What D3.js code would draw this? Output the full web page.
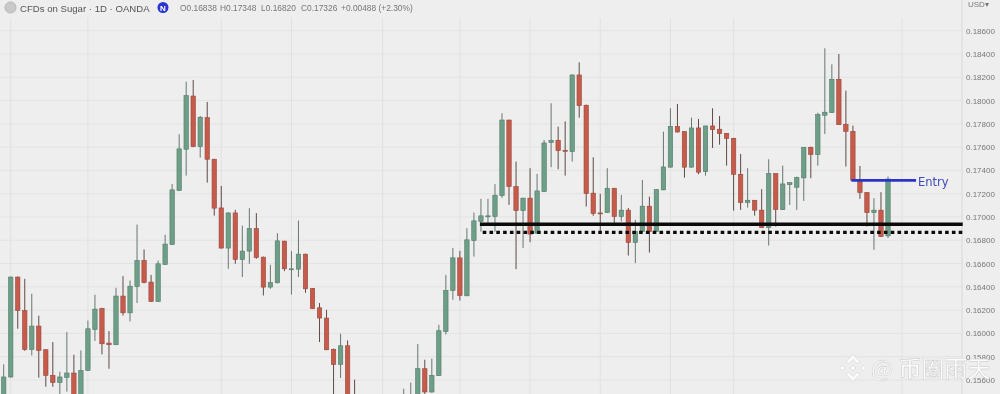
<!DOCTYPE html>
<html>
<head>
<meta charset="utf-8">
<script src="https://cdn.jsdelivr.net/npm/d3@7"></script>
<style>
  html, body { margin: 0; padding: 0; background: #ececec; overflow: hidden; }
  svg { display: block; filter: blur(0.45px); }
  text { font-family: "Liberation Sans", sans-serif; }
</style>
</head>
<body>
<div id="chart"></div>
<script>
/* globals d3 */
const title = 'CFDs on Sugar · 1D · OANDA';
const quote = ['O0.16838', 'H0.17348', 'L0.16820', 'C0.17326', '+0.00488 (+2.30%)'];
const quoteX = [180, 220, 261, 301, 341];
const priceTicks = [0.186, 0.184, 0.182, 0.18, 0.178, 0.176, 0.174, 0.172, 0.17, 0.168, 0.166, 0.164, 0.162, 0.16, 0.158, 0.156];
const timeGrid = [1, 12, 31, 41, 54, 65, 75, 85, 95, 104, 128];

// candles 51-56 sit below the visible area
const opens = [
  0.15431, 0.15626, 0.16484, 0.16197, 0.15863, 0.16063, 0.15860, 0.15640, 0.15579, 0.15622,
  0.15660, 0.15431, 0.15682, 0.16034, 0.16214, 0.15917, 0.15903, 0.16321, 0.16177, 0.16403,
  0.16626, 0.16441, 0.16274, 0.16592, 0.16763, 0.17227, 0.17582, 0.18039, 0.17604, 0.17853,
  0.17496, 0.17078, 0.16733, 0.17035, 0.16635, 0.16707, 0.16901, 0.16655, 0.16398, 0.16435,
  0.16793, 0.16555, 0.16552, 0.16681, 0.16386, 0.16220, 0.16132, 0.15864, 0.15734, 0.15894,
  0.15450, null, null, null, null, null, null, 0.15431, 0.15431, 0.15431,
  0.15697, 0.15497, 0.15637, 0.16017, 0.16369, 0.16649, 0.16323, 0.16798, 0.16961, 0.17010,
  0.17004, 0.17184, 0.17833, 0.17261, 0.17055, 0.17162, 0.16861, 0.17218, 0.17639, 0.17659,
  0.17573, 0.17561, 0.18220, 0.17960, 0.17205, 0.17035, 0.17038, 0.17247, 0.17004, 0.17059,
  0.16781, 0.16875, 0.17093, 0.16875, 0.17233, 0.17428, 0.17779, 0.17733, 0.17428, 0.17765,
  0.17390, 0.17782, 0.17754, 0.17719, 0.17676, 0.17367, 0.17124, 0.17144, 0.17059, 0.16909,
  0.17373, 0.17064, 0.17278, 0.17256, 0.17336, 0.17599, 0.17536, 0.17874, 0.17896, 0.18183,
  0.17796, 0.17736, 0.17319, 0.17210, 0.17038, 0.17059, 0.16838
];
const highs = [
  0.15734, 0.16490, 0.16490, 0.16469, 0.16340, 0.16152, 0.15865, 0.15926, 0.15671, 0.16012,
  0.15817, 0.15854, 0.16111, 0.16332, 0.16220, 0.16020, 0.16392, 0.16492, 0.16455, 0.16935,
  0.16721, 0.16503, 0.16626, 0.16847, 0.17284, 0.17711, 0.18162, 0.18177, 0.17868, 0.17988,
  0.17500, 0.17267, 0.17040, 0.17061, 0.16926, 0.17076, 0.17033, 0.16660, 0.16589, 0.16861,
  0.16795, 0.16707, 0.16969, 0.16685, 0.16390, 0.16261, 0.16203, 0.15870, 0.15997, 0.15940,
  0.15603, null, null, null, null, null, null, 0.15525, 0.15577, 0.15909,
  0.15774, 0.15783, 0.16074, 0.16503, 0.16733, 0.16709, 0.16904, 0.17038, 0.17156, 0.17156,
  0.17282, 0.17891, 0.17835, 0.17476, 0.17165, 0.17419, 0.17370, 0.17662, 0.17977, 0.17776,
  0.17822, 0.18225, 0.18329, 0.17965, 0.17513, 0.17199, 0.17419, 0.17250, 0.17190, 0.17078,
  0.16975, 0.17319, 0.17175, 0.17240, 0.17733, 0.17934, 0.17971, 0.17735, 0.17853, 0.17842,
  0.17785, 0.17934, 0.17868, 0.17720, 0.17680, 0.17542, 0.17419, 0.17145, 0.17239, 0.17496,
  0.17375, 0.17441, 0.17295, 0.17347, 0.17600, 0.17604, 0.17896, 0.18449, 0.18311, 0.18400,
  0.18085, 0.17785, 0.17439, 0.17215, 0.17162, 0.17213, 0.17348
];
const lows = [
  0.15431, 0.15620, 0.16040, 0.15851, 0.15811, 0.15620, 0.15542, 0.15542, 0.15465, 0.15500,
  0.15431, 0.15431, 0.15680, 0.15935, 0.15820, 0.15697, 0.15900, 0.16154, 0.16103, 0.16261,
  0.16430, 0.16270, 0.16270, 0.16590, 0.16760, 0.17225, 0.17355, 0.17600, 0.17510, 0.17295,
  0.17012, 0.16730, 0.16555, 0.16598, 0.16484, 0.16598, 0.16641, 0.16326, 0.16383, 0.16430,
  0.16535, 0.16334, 0.16484, 0.16349, 0.16210, 0.15926, 0.15855, 0.15431, 0.15617, 0.15431,
  0.15431, null, null, null, null, null, null, 0.15431, 0.15431, 0.15431,
  0.15431, 0.15490, 0.15635, 0.15991, 0.16289, 0.16283, 0.16320, 0.16660, 0.16875, 0.16941,
  0.16875, 0.17164, 0.17104, 0.16552, 0.16733, 0.16784, 0.16860, 0.17215, 0.17428, 0.17410,
  0.17355, 0.17476, 0.17853, 0.17090, 0.17010, 0.16864, 0.17035, 0.16950, 0.16961, 0.16669,
  0.16604, 0.16870, 0.16695, 0.16870, 0.17230, 0.17425, 0.17725, 0.17338, 0.17425, 0.17367,
  0.17355, 0.17593, 0.17621, 0.17441, 0.17055, 0.17061, 0.17081, 0.17012, 0.16905, 0.16755,
  0.16918, 0.17060, 0.17104, 0.17061, 0.17138, 0.17333, 0.17441, 0.17713, 0.17895, 0.17790,
  0.17433, 0.17310, 0.17156, 0.16918, 0.16718, 0.16828, 0.16820
];
const closes = [
  0.15626, 0.16484, 0.16197, 0.15863, 0.16063, 0.15854, 0.15640, 0.15579, 0.15626, 0.15660,
  0.15431, 0.15682, 0.16040, 0.16209, 0.15911, 0.15903, 0.16321, 0.16177, 0.16406, 0.16626,
  0.16437, 0.16274, 0.16598, 0.16767, 0.17233, 0.17585, 0.18042, 0.17604, 0.17857, 0.17496,
  0.17076, 0.16733, 0.17035, 0.16635, 0.16707, 0.16901, 0.16652, 0.16398, 0.16437, 0.16795,
  0.16555, 0.16555, 0.16681, 0.16383, 0.16214, 0.16132, 0.15860, 0.15734, 0.15894, 0.15431,
  0.15431, null, null, null, null, null, null, 0.15450, 0.15450, 0.15697,
  0.15497, 0.15640, 0.16023, 0.16369, 0.16649, 0.16326, 0.16804, 0.16967, 0.17010, 0.17010,
  0.17187, 0.17833, 0.17261, 0.17055, 0.17162, 0.16853, 0.17224, 0.17636, 0.17659, 0.17570,
  0.17565, 0.18220, 0.17956, 0.17201, 0.17030, 0.17027, 0.17247, 0.17004, 0.17059, 0.16781,
  0.16875, 0.17093, 0.16875, 0.17235, 0.17430, 0.17779, 0.17730, 0.17428, 0.17765, 0.17385,
  0.17782, 0.17750, 0.17716, 0.17676, 0.17367, 0.17124, 0.17144, 0.17059, 0.16909, 0.17373,
  0.17064, 0.17284, 0.17295, 0.17338, 0.17599, 0.17536, 0.17879, 0.17900, 0.18183, 0.17793,
  0.17736, 0.17313, 0.17210, 0.17038, 0.17059, 0.16832, 0.17326
];

// drawn levels: from candle, to candle, price
const supportLevel = [67.85, 136.65, 0.16938];
const lowerLevel = [68.25, 136.8, 0.16868];
const entryLevel = [120.8, 130, 0.17315];

const width = 1000;
const height = 394;
const axisX = 962;

const x = d3.scaleLinear().domain([0, 126]).range([3.7, 888]);
const y = d3.scaleLinear().domain([0.156, 0.184]).range([380, 54]);

const candles = opens.map((o, i) => ({ i, o, h: highs[i], l: lows[i], c: closes[i] }))
  .filter(d => d.o !== null);

const svg = d3.select('#chart').append('svg')
  .attr('width', width)
  .attr('height', height);

svg.append('rect')
  .attr('width', width)
  .attr('height', height)
  .attr('fill', '#eeeeee');

// grid
svg.append('g').selectAll('line')
  .data(priceTicks)
  .join('line')
  .attr('x1', 0)
  .attr('x2', axisX)
  .attr('y1', d => y(d))
  .attr('y2', d => y(d))
  .attr('stroke', '#e3e3e3')
  .attr('stroke-width', 1);

svg.append('g').selectAll('line')
  .data(timeGrid)
  .join('line')
  .attr('x1', d => x(d))
  .attr('x2', d => x(d))
  .attr('y1', 18)
  .attr('y2', height)
  .attr('stroke', '#e1e1e1')
  .attr('stroke-width', 1);

// price axis
const axis = d3.axisRight(y)
  .tickValues(priceTicks)
  .tickFormat(d3.format('.5f'))
  .tickSize(0)
  .tickPadding(4);

const axisG = svg.append('g')
  .attr('transform', `translate(${axisX},0)`)
  .call(axis);
axisG.select('.domain')
  .attr('stroke', '#d8d8d8')
  .attr('d', `M0,0V${height}`);
axisG.selectAll('text')
  .attr('fill', '#777')
  .style('font-size', '8px');

svg.append('text')
  .attr('x', 968)
  .attr('y', 7)
  .attr('fill', '#777')
  .style('font-size', '8px')
  .text('USD▾');

// candles
const isUp = d => d.c >= d.o;
const candle = svg.append('g').selectAll('g')
  .data(candles)
  .join('g');

candle.append('line')
  .attr('x1', d => x(d.i))
  .attr('x2', d => x(d.i))
  .attr('y1', d => y(d.h))
  .attr('y2', d => y(d.l))
  .attr('stroke', d => isUp(d) ? '#66776f' : '#5f4a46')
  .attr('stroke-width', 1);

candle.append('rect')
  .attr('x', d => x(d.i) - 2.2)
  .attr('width', 4.4)
  .attr('y', d => y(Math.max(d.o, d.c)))
  .attr('height', d => Math.max(1, Math.abs(y(d.o) - y(d.c))))
  .attr('fill', d => isUp(d) ? '#6d9f88' : '#c75b4b')
  .attr('stroke', d => isUp(d) ? '#527a69' : '#98473a')
  .attr('stroke-width', 0.6);

// levels
const levelLine = (level, color, w, dash) => svg.append('line')
  .attr('x1', x(level[0]))
  .attr('x2', x(level[1]))
  .attr('y1', y(level[2]))
  .attr('y2', y(level[2]))
  .attr('stroke', color)
  .attr('stroke-width', w)
  .attr('stroke-dasharray', dash);

levelLine(supportLevel, '#0b0b0b', 3.4, null);
levelLine(lowerLevel, '#0b0b0b', 3.4, '3.6 3.2');
levelLine(entryLevel, '#2b34c9', 2.8, null);

svg.append('text')
  .attr('x', 918)
  .attr('y', 185.5)
  .attr('fill', '#3f49b8')
  .style('font-family', '"DejaVu Sans", sans-serif')
  .style('font-size', '11.5px')
  .text('Entry');

// legend row
const header = svg.append('g');
header.append('circle')
  .attr('cx', 10.5)
  .attr('cy', 7.5)
  .attr('r', 5.5)
  .attr('fill', '#c9c9c9')
  .attr('stroke', '#b5b5b5');
header.append('text')
  .attr('x', 20)
  .attr('y', 11.5)
  .attr('fill', '#555')
  .style('font-size', '9.6px')
  .text(title);
header.append('circle')
  .attr('cx', 163)
  .attr('cy', 7.5)
  .attr('r', 5.5)
  .attr('fill', '#2b34d0');
header.append('text')
  .attr('x', 163)
  .attr('y', 10.5)
  .attr('text-anchor', 'middle')
  .attr('fill', '#fff')
  .style('font-size', '8px')
  .style('font-weight', 'bold')
  .text('N');
header.selectAll('.quote')
  .data(quote)
  .join('text')
  .attr('class', 'quote')
  .attr('x', (d, i) => quoteX[i])
  .attr('y', 11)
  .attr('fill', '#777')
  .style('font-size', '8.4px')
  .text(d => d);

// watermark
const mark = svg.append('g')
  .attr('transform', 'translate(853,368)')
  .attr('fill', '#fbfbfb')
  .attr('stroke', '#c4c4c4')
  .attr('stroke-width', 0.5);
mark.append('path').attr('d', 'M0,-13.5L7,-6.5L4.5,-4L0,-8.5L-4.5,-4L-7,-6.5Z');
mark.append('path').attr('d', 'M0,13.5L7,6.5L4.5,4L0,8.5L-4.5,4L-7,6.5Z');
mark.append('path').attr('d', 'M-13.5,0L-10.5,-3L-7.5,0L-10.5,3Z');
mark.append('path').attr('d', 'M13.5,0L10.5,-3L7.5,0L10.5,3Z');
mark.append('path').attr('d', 'M0,-3L3,0L0,3L-3,0Z');

svg.append('text')
  .attr('x', 871)
  .attr('y', 377)
  .attr('fill', '#fbfbfb')
  .attr('stroke', '#c4c4c4')
  .attr('stroke-width', 0.4)
  .style('font-family', '"Noto Sans CJK SC", sans-serif')
  .style('font-size', '23px')
  .style('font-weight', 500)
  .text('@ 币圈雨天');
</script>
</body>
</html>
